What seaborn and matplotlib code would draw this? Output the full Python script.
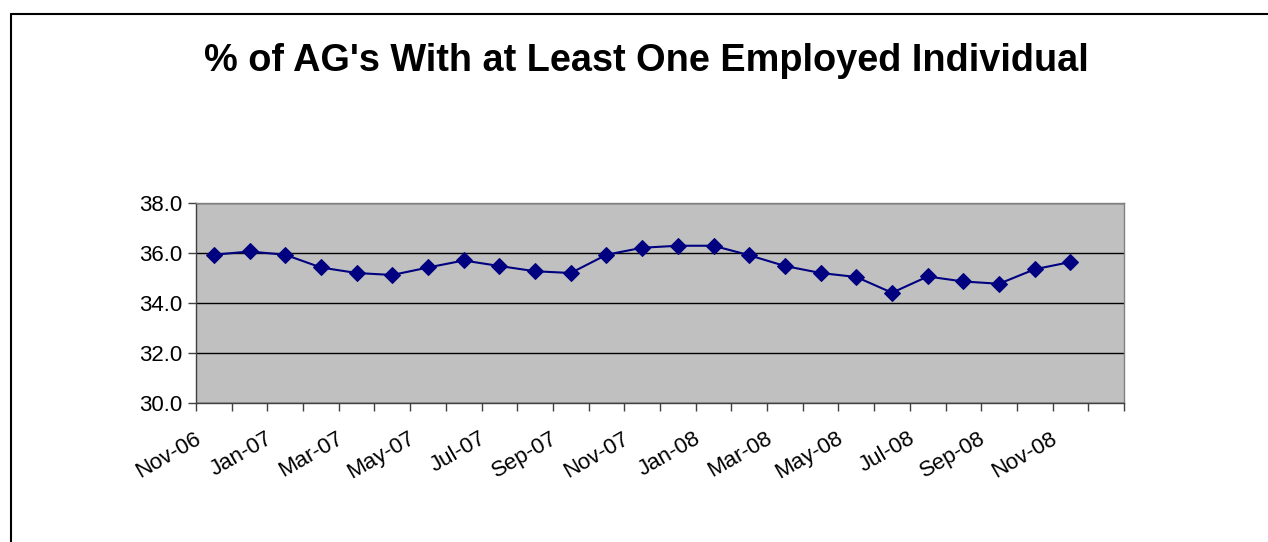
import numpy as np
import pandas as pd
import matplotlib
matplotlib.use("Agg")
import matplotlib.pyplot as plt
import matplotlib.transforms as mtransforms
from matplotlib.lines import Line2D
import seaborn as sns

# monthly series, Nov-06 .. Nov-08 (Dec-08 category left empty)
months = ['Nov-06', 'Dec-06', 'Jan-07', 'Feb-07', 'Mar-07', 'Apr-07', 'May-07',
          'Jun-07', 'Jul-07', 'Aug-07', 'Sep-07', 'Oct-07', 'Nov-07', 'Dec-07',
          'Jan-08', 'Feb-08', 'Mar-08', 'Apr-08', 'May-08', 'Jun-08', 'Jul-08',
          'Aug-08', 'Sep-08', 'Oct-08', 'Nov-08', 'Dec-08']
pct_employed = [35.93, 36.06, 35.93, 35.42, 35.20, 35.12, 35.42, 35.70, 35.48,
                35.27, 35.20, 35.93, 36.21, 36.29, 36.29, 35.91, 35.48, 35.20,
                35.04, 34.41, 35.06, 34.86, 34.77, 35.35, 35.64]
y_ticks = [30.0, 32.0, 34.0, 36.0, 38.0]

df = pd.DataFrame({'idx': np.arange(len(pct_employed)), 'pct': pct_employed})

sns.set_style("white")
plt.rcParams['font.family'] = ['Liberation Sans', 'DejaVu Sans']
plt.rcParams['text.color'] = 'black'

fig = plt.figure(figsize=(12.68, 5.42), dpi=100)
ax = fig.add_axes([196 / 1268, 1 - 403 / 542, (1124 - 196) / 1268, 200 / 542])
ax.set_facecolor('#C0C0C0')

sns.lineplot(data=df, x='idx', y='pct', ax=ax, color='#000080', linewidth=1.5,
             marker='D', markersize=8, markeredgecolor='#000080')

ax.set_xlim(-0.5, len(months) - 0.5)
ax.set_ylim(30, 38)
ax.set_yticks(y_ticks)
ax.set_yticklabels([f"{v:.1f}" for v in y_ticks], fontsize=16)
ax.yaxis.grid(True, color='black', linewidth=1)
ax.set_axisbelow(True)

# tick marks on category boundaries, labels every other month
ax.set_xticks(np.arange(len(months) + 1) - 0.5, minor=True)
ax.set_xticks(np.arange(0, len(months), 2))
ax.set_xticklabels(months[::2], rotation=30, ha='right', rotation_mode='anchor',
                   fontsize=16)
ax.tick_params(axis='x', which='both', bottom=True)
ax.tick_params(axis='y', which='both', left=True)
ax.tick_params(axis='x', which='major', length=0, pad=18)
ax.tick_params(axis='x', which='minor', length=6, width=1, color='#404040', direction='out')
ax.tick_params(axis='y', length=6, width=1, color='#404040', direction='out', pad=4)
ax.tick_params(axis='both', labelcolor='black')
offset = mtransforms.ScaledTranslation(-0.2, 0, fig.dpi_scale_trans)
for lbl in ax.get_xticklabels():
    lbl.set_transform(lbl.get_transform() + offset)

ax.set_xlabel('')
ax.set_ylabel('')
for side in ['top', 'right']:
    ax.spines[side].set_color('#808080')
for side in ['left', 'bottom']:
    ax.spines[side].set_color('#404040')
for sp in ax.spines.values():
    sp.set_linewidth(1)
    sp.set_visible(True)

fig.text(0.51, 1 - 61 / 542, "% of AG's With at Least One Employed Individual",
         ha='center', va='center', fontsize=27.3, fontweight='bold', color='black')

# chart area border (top and left only visible)
fig.add_artist(Line2D([11 / 1268, 1.0], [1 - 14 / 542, 1 - 14 / 542],
                      transform=fig.transFigure, color='black', linewidth=1.5))
fig.add_artist(Line2D([11 / 1268, 11 / 1268], [0, 1 - 14 / 542],
                      transform=fig.transFigure, color='black', linewidth=1.5))

fig.savefig('out.png', dpi=100)
